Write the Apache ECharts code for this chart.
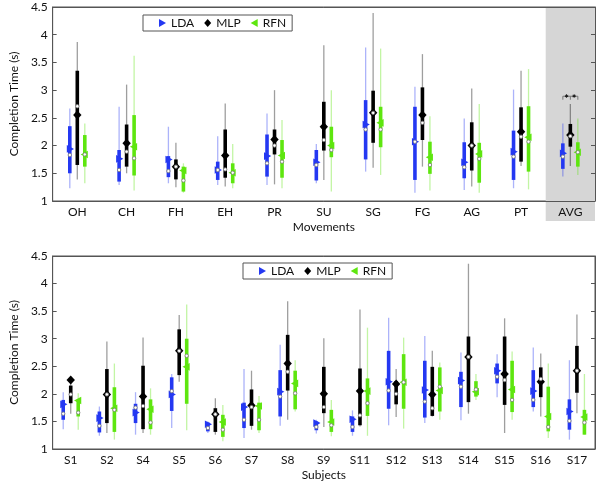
<!DOCTYPE html>
<html>
<head>
<meta charset="utf-8">
<script src="https://cdn.jsdelivr.net/npm/echarts@6/dist/echarts.min.js"></script>
<style>html,body{margin:0;padding:0;background:#fff}#c{width:600px;height:484px}</style>
</head>
<body>
<div id="c"></div>
<script>
// ---- DATA: each entry = [whiskerLow, whiskerHigh, q1, q3, median, mean]
const movements = ['OH','CH','FH','EH','PR','SU','SG','FG','AG','PT','AVG'];
const ldaMov = [
  [1.23,2.67,1.50,2.35,1.83,1.94],[1.29,2.70,1.35,1.92,1.56,1.76],[1.32,2.34,1.43,1.81,1.54,1.75],
  [1.29,2.17,1.38,1.71,1.56,1.56],[1.29,2.58,1.44,2.20,1.68,1.81],[1.32,2.03,1.37,1.92,1.65,1.70],
  [1.53,3.77,1.75,2.82,2.29,2.38],[1.15,3.06,1.38,2.70,2.07,2.07],[1.20,2.49,1.41,2.06,1.61,1.70],
  [1.23,3.01,1.38,2.27,1.80,1.89],[1.44,2.40,1.58,2.04,1.80,1.86]
];
const mlpMov = [
  [1.39,3.87,1.65,3.35,2.71,2.55],[1.50,3.10,1.62,2.38,1.89,2.04],[1.25,2.05,1.39,1.75,1.62,1.62],
  [1.26,2.76,1.42,2.29,1.57,1.82],[1.30,3.00,1.84,2.29,2.00,2.11],[1.38,3.81,1.91,2.79,2.10,2.34],
  [1.60,4.39,2.05,2.99,2.59,2.59],[1.62,3.65,2.10,3.05,2.41,2.55],[1.26,3.03,1.55,2.42,2.00,2.00],
  [1.63,3.35,1.71,2.69,2.16,2.25],[1.63,2.75,1.98,2.39,2.17,2.19]
];
const rfnMov = [
  [1.32,2.40,1.62,2.19,1.84,1.84],[1.19,3.62,1.46,2.55,1.77,1.98],[1.15,1.68,1.17,1.62,1.37,1.55],
  [1.23,2.03,1.32,1.68,1.51,1.51],[1.23,2.46,1.42,2.10,1.71,1.82],[1.17,3.00,1.79,2.34,1.92,2.00],
  [1.47,3.75,1.97,2.70,2.29,2.41],[1.19,2.53,1.49,2.07,1.65,1.79],[1.15,2.75,1.33,2.05,1.76,1.85],
  [1.21,3.38,1.53,2.71,2.07,2.15],[1.47,2.49,1.62,2.06,1.88,1.88]
];
const subjects = ['S1','S2','S4','S5','S6','S7','S8','S9','S11','S12','S13','S14','S15','S16','S17'];
const ldaSub = [
  [1.36,2.03,1.53,1.89,1.64,1.81],[1.24,1.77,1.30,1.68,1.42,1.56],[1.26,2.03,1.47,1.82,1.75,1.66],
  [1.38,2.36,1.69,2.30,2.05,1.99],[1.29,1.50,1.32,1.48,1.38,1.45],[1.20,2.45,1.38,1.84,1.53,1.76],
  [1.42,2.89,1.59,2.43,1.95,2.04],[1.28,1.53,1.34,1.50,1.40,1.47],[1.24,1.70,1.31,1.59,1.40,1.54],
  [1.43,3.38,1.73,2.78,2.06,2.22],[1.47,3.05,1.57,2.60,1.86,2.07],[1.52,2.75,1.76,2.40,2.13,2.24],
  [1.94,2.72,2.19,2.55,2.31,2.42],[1.68,2.84,1.76,2.43,1.89,2.05],[1.17,2.61,1.35,1.90,1.51,1.68]
];
const mlpSub = [
  [1.64,2.31,1.83,2.15,1.99,2.25],[1.29,2.95,1.47,2.45,1.99,1.99],[1.29,3.02,1.36,2.51,1.78,1.95],
  [2.22,3.43,2.34,3.17,2.78,2.78],[1.26,1.92,1.31,1.74,1.63,1.63],[1.35,2.42,1.42,2.08,1.76,1.79],
  [1.53,3.68,2.06,3.07,2.40,2.55],[1.40,3.01,1.65,2.49,1.76,2.00],[1.41,3.53,1.43,2.46,1.61,2.05],
  [1.58,2.45,1.81,2.23,2.00,2.18],[1.59,2.78,1.60,2.49,1.74,1.99],[1.64,4.36,1.85,3.04,2.67,2.67],
  [1.29,3.37,1.80,3.04,2.25,2.36],[1.59,2.73,1.94,2.48,2.27,2.22],[1.65,3.44,2.02,2.87,2.42,2.42]
];
const rfnSub = [
  [1.35,2.01,1.59,1.89,1.66,1.88],[1.17,2.55,1.31,2.12,1.71,1.74],[1.26,2.10,1.36,1.90,1.48,1.72],
  [1.34,3.62,1.82,3.00,2.69,2.49],[1.14,1.80,1.22,1.62,1.35,1.49],[1.29,1.96,1.34,1.84,1.53,1.78],
  [1.68,2.61,1.72,2.42,2.01,2.19],[1.23,1.89,1.31,1.71,1.43,1.49],[1.24,3.20,1.60,2.28,1.83,2.05],
  [1.37,3.02,1.73,2.72,2.21,2.21],[1.53,2.57,1.68,2.48,2.13,2.06],[1.89,2.36,1.95,2.23,2.08,2.04],
  [1.53,2.77,1.67,2.60,1.89,2.08],[1.20,2.55,1.32,2.13,1.40,1.59],[1.26,2.36,1.26,1.71,1.48,1.58]
];
const yTicks = [1, 4.5, 0.5]; // min, max, interval
const avgIndex = 10;       // shaded "AVG" category
const sigLevel = 2.89;     // significance bracket height on AVG
const methods = ['LDA','MLP','RFN'];

// ---- STYLE
const FONT = 'Lato';
const COL = {LDA:'#2438f2', MLP:'#000000', RFN:'#5ee60f'};
const LIGHT = {LDA:'rgba(36,56,242,0.38)', MLP:'rgba(0,0,0,0.38)', RFN:'rgba(94,230,15,0.38)'};
const OFFS = {LDA:-7.5, MLP:0, RFN:7.5};

function meanMarker(m, x, y) {
  if (m === 'LDA') return {type:'polygon', shape:{points:[[x-3,y-3.8],[x+4.2,y],[x-3,y+3.8]]}, style:{fill:COL[m]}};
  if (m === 'RFN') return {type:'polygon', shape:{points:[[x+3,y-3.8],[x-4.2,y],[x+3,y+3.8]]}, style:{fill:COL[m]}};
  return {type:'polygon', shape:{points:[[x,y-4.5],[x+4.2,y],[x,y+4.5],[x-4.2,y]]}, style:{fill:COL[m]}};
}
function boxRender(m, off) {
  return function (params, api) {
    const i = api.value(0);
    const xc = api.coord([i, 1])[0] + off;
    const y = k => api.coord([i, api.value(k)])[1];
    const yLo = y(1), yHi = y(2), yQ1 = y(3), yQ3 = y(4), yMed = y(5), yMean = y(6);
    return {type:'group', children:[
      {type:'line', shape:{x1:xc, y1:yLo, x2:xc, y2:yHi}, style:{stroke:LIGHT[m], lineWidth:1.3}},
      {type:'rect', shape:{x:xc-1.8, y:yQ3, width:3.6, height:yQ1-yQ3}, style:{fill:COL[m]}},
      meanMarker(m, xc, yMean),
      {type:'circle', shape:{cx:xc, cy:yMed, r:1.7}, style:{fill:'#fff', stroke:'#777', lineWidth:0.8}}
    ]};
  };
}
function toData(arr) { return arr.map((r, i) => [i].concat(r)); }

const axisLineStyle = {color:'#555', width:1};
const labelStyle = {fontFamily:FONT, fontSize:12, color:'#111'};
function xAxes(grid, cats, name) {
  return [
    {type:'category', gridIndex:grid, data:cats, boundaryGap:true,
     axisLine:{lineStyle:axisLineStyle}, axisTick:{inside:true, alignWithLabel:true, length:4, lineStyle:axisLineStyle},
     axisLabel:Object.assign({margin:5, interval:0}, labelStyle),
     name:name, nameLocation:'middle', nameGap:20, nameTextStyle:{fontFamily:FONT, fontSize:12, color:'#111'}, splitLine:{show:false}},
    {type:'category', gridIndex:grid, data:cats, position:'top', boundaryGap:true,
     axisLine:{lineStyle:axisLineStyle}, axisTick:{inside:true, alignWithLabel:true, length:4, lineStyle:axisLineStyle},
     axisLabel:{show:false}, splitLine:{show:false}}
  ];
}
function yAxes(grid) {
  return [
    {type:'value', gridIndex:grid, min:yTicks[0], max:yTicks[1], interval:yTicks[2],
     axisLine:{show:true, lineStyle:axisLineStyle}, axisTick:{show:true, inside:true, length:4, lineStyle:axisLineStyle},
     axisLabel:Object.assign({margin:5}, labelStyle), splitLine:{show:false},
     name:'Completion Time (s)', nameLocation:'middle', nameGap:24, nameRotate:90,
     nameTextStyle:{fontFamily:FONT, fontSize:12, color:'#111'}},
    {type:'value', gridIndex:grid, position:'right', min:yTicks[0], max:yTicks[1], interval:yTicks[2],
     axisLine:{show:true, lineStyle:axisLineStyle}, axisTick:{show:true, inside:true, length:4, lineStyle:axisLineStyle},
     axisLabel:{show:false}, splitLine:{show:false}}
  ];
}

const series = [];
// shaded AVG column
series.push({type:'custom', xAxisIndex:0, yAxisIndex:0, z:0, silent:true, data:[[avgIndex, yTicks[1]]],
  renderItem:function (params, api) {
    const cx = api.coord([api.value(0), yTicks[1]])[0];
    const bw = api.size([1, 0])[0];
    const cs = params.coordSys;
    return {type:'rect', shape:{x:cx-bw/2, y:cs.y, width:bw, height:cs.height+20}, style:{fill:'#d6d6d6'}};
  }});
const groups = [
  {xa:0, ya:0, sets:{LDA:ldaMov, MLP:mlpMov, RFN:rfnMov}},
  {xa:2, ya:2, sets:{LDA:ldaSub, MLP:mlpSub, RFN:rfnSub}}
];
groups.forEach(g => {
  methods.forEach(m => {
    series.push({type:'custom', name:m, xAxisIndex:g.xa, yAxisIndex:g.ya, z:3,
      itemStyle:{color:COL[m]}, data:toData(g.sets[m]), renderItem:boxRender(m, OFFS[m])});
  });
});
// significance bracket on AVG
series.push({type:'custom', xAxisIndex:0, yAxisIndex:0, z:4, silent:true, data:[[avgIndex, sigLevel]],
  renderItem:function (params, api) {
    const p = api.coord([api.value(0), api.value(1)]);
    const xl = p[0] + OFFS.LDA, xm = p[0], xr = p[0] + OFFS.RFN, y0 = p[1];
    const st = {stroke:'#777', lineWidth:1};
    return {type:'group', children:[
      {type:'line', shape:{x1:xl, y1:y0, x2:xr, y2:y0}, style:st},
      {type:'line', shape:{x1:xl, y1:y0, x2:xl, y2:y0+3.5}, style:st},
      {type:'line', shape:{x1:xm, y1:y0, x2:xm, y2:y0+3.5}, style:st},
      {type:'line', shape:{x1:xr, y1:y0, x2:xr, y2:y0+3.5}, style:st},
      {type:'text', style:{text:'*', x:(xl+xm)/2, y:y0+3, align:'center', verticalAlign:'middle', font:'bold 11px ' + FONT, fill:'#000'}},
      {type:'text', style:{text:'*', x:(xm+xr)/2, y:y0+3, align:'center', verticalAlign:'middle', font:'bold 11px ' + FONT, fill:'#000'}}
    ]};
  }});

const icons = {
  LDA:'path://M0,0L8,4.5L0,9Z',
  MLP:'path://M4,0L8,4.5L4,9L0,4.5Z',
  RFN:'path://M8,0L0,4.5L8,9Z'
};
function legend(left, top) {
  return {left:left, top:top, orient:'horizontal', selectedMode:false,
    borderColor:'#555', borderWidth:1, padding:[2, 6, 2, 16], itemGap:10, itemWidth:7, itemHeight:8,
    textStyle:{fontFamily:FONT, fontSize:12, color:'#111'},
    data:methods.map(m => ({name:m, icon:icons[m], itemStyle:{color:COL[m]}}))};
}

const option = {
  animation:false,
  backgroundColor:'#fff',
  grid:[
    {left:38, top:7, width:557, height:194, show:true, borderColor:'#555', borderWidth:1, backgroundColor:'transparent'},
    {left:38, top:256, width:557, height:193, show:true, borderColor:'#555', borderWidth:1, backgroundColor:'transparent'}
  ],
  xAxis: xAxes(0, movements, 'Movements').concat(xAxes(1, subjects, 'Subjects')),
  yAxis: yAxes(0).concat(yAxes(1)),
  legend:[legend(143, 15), legend(243, 263)],
  series:series
};
const chart = echarts.init(document.getElementById('c'), null, {renderer:'canvas'});
chart.setOption(option);
</script>
</body>
</html>
